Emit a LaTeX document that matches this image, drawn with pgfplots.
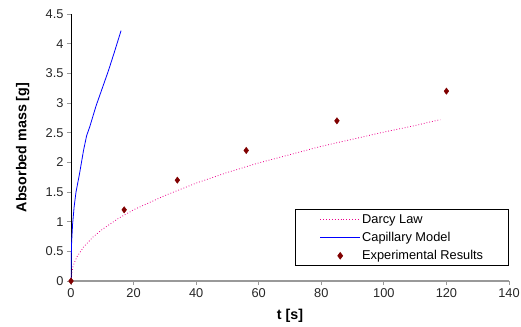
\documentclass[border=0pt]{standalone}
\usepackage{fontspec}
\setmainfont{Liberation Sans}
\usepackage{pgfplots}
\pgfplotsset{compat=1.18}
\definecolor{expred}{HTML}{800000}
\begin{document}
\begin{tikzpicture}
\begin{axis}[
  scale only axis, width=438pt, height=267pt,
  xmin=0, xmax=140, ymin=0, ymax=4.5,
  xtick={0,20,...,140}, ytick={0,0.5,...,4.5},
  axis lines*=left,
  x axis line style={draw=gray!80, line width=1.3pt},
  y axis line style={draw=black, line width=0.6pt},
  tick align=outside, major tick length=4pt,
  tick style={gray!80, line width=0.8pt},
  /pgf/number format/assume math mode=true,
  ticklabel style={font=\fontsize{12.8}{15}\selectfont, text=black!85},
  yticklabel style={/pgf/number format/.cd, fixed, precision=1},
  xlabel={\textbf{t [s]}}, ylabel={\textbf{Absorbed mass [g]}},
  label style={font=\fontsize{14.3}{16}\selectfont},
  xlabel style={at={(axis description cs:0.5,0)}, anchor=north, yshift=-25pt},
  ylabel style={at={(axis description cs:-0.11,0.5)}, anchor=center},
  legend style={at={(1.0,0.056)}, anchor=south east, draw=black, line width=0.8pt,
    font=\fontsize{12.8}{15}\selectfont, legend cell align=left, inner xsep=24pt, inner ysep=3pt,
    row sep=4.5pt, nodes={inner sep=1.5pt}},
  legend image code/.code={\draw[mark repeat=2,mark phase=2,#1] plot coordinates {(0pt,0pt) (20pt,0pt) (40pt,0pt)};},
]
\coordinate (O) at (rel axis cs:0,0);
\addplot[magenta, dotted, line width=0.8pt,
  legend image code/.code={\draw[draw=magenta, dotted, line width=0.9pt] (0pt,0pt) -- (40pt,0pt);}] coordinates {
(0,0) (0.5,0.22) (1,0.30) (2,0.416) (4,0.57) (7,0.74) (10,0.87) (15,1.05) (20,1.20)
(30,1.44) (40,1.65) (50,1.83) (60,1.99) (70,2.13) (80,2.27) (90,2.39) (100,2.51) (110,2.62) (118,2.72)};
\addlegendentry{Darcy Law}
\addplot[blue, line width=0.8pt,
  legend image code/.code={\draw[draw=blue, line width=0.9pt] (0pt,0pt) -- (40pt,0pt);}] coordinates {
(0,0) (0.05,0.35) (0.2,0.65) (0.5,0.95) (1,1.25) (1.6,1.5) (2.7,1.8) (4,2.2) (5,2.45) (6,2.6)
(8,2.95) (10,3.25) (12,3.55) (14,3.88) (16,4.22)};
\addlegendentry{Capillary Model}
\addplot[only marks, mark=diamond*, mark size=3.2pt, color=expred] coordinates {
(0,0) (17,1.2) (34,1.7) (56,2.2) (85,2.7) (120,3.2)};
\addlegendentry{Experimental Results}
\end{axis}
\pgfresetboundingbox
\path (O) ++(-71pt,-45pt) rectangle ++(521pt,326pt);
\end{tikzpicture}
\end{document}
